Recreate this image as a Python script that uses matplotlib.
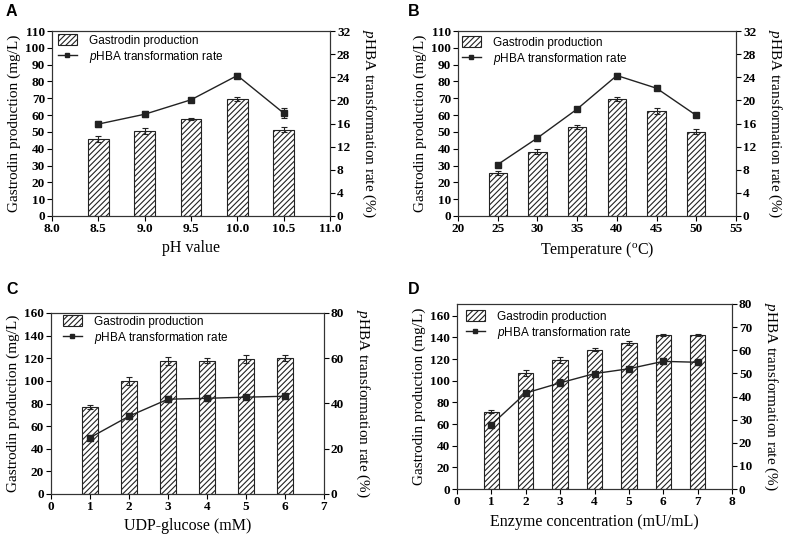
import matplotlib
matplotlib.use("Agg")
import matplotlib.pyplot as plt
from matplotlib.lines import Line2D
from matplotlib.patches import Patch
import numpy as np

plt.rcParams['font.family'] = ['Liberation Serif', 'DejaVu Serif']
plt.rcParams['mathtext.fontset'] = 'custom'
plt.rcParams['mathtext.it'] = 'Liberation Serif:italic'
plt.rcParams['mathtext.rm'] = 'Liberation Serif'
plt.rcParams['mathtext.sf'] = 'Liberation Sans:italic'
plt.rcParams['hatch.linewidth'] = 0.8
plt.rcParams['hatch.color'] = '#333333'

# Panel A: pH
ph = [8.5, 9.0, 9.5, 10.0, 10.5]
ph_prod = [45.6, 50.5, 57.6, 69.8, 51.3]
ph_prod_err = [1.8, 1.6, 0.8, 1.2, 1.5]
ph_rate = [15.9, 17.6, 20.1, 24.3, 17.8]
ph_rate_err = [0.5, 0.5, 0.3, 0.4, 0.8]

# Panel B: temperature
temp = [25, 30, 35, 40, 45, 50]
temp_prod = [25.6, 38.3, 53.1, 69.6, 62.6, 50.0]
temp_prod_err = [1.2, 1.6, 1.2, 1.4, 1.8, 1.5]
temp_rate = [8.9, 13.5, 18.5, 24.3, 22.1, 17.4]
temp_rate_err = [0.3, 0.5, 0.4, 0.5, 0.3, 0.2]

# Panel C: UDP-glucose
udp = [1, 2, 3, 4, 5, 6]
udp_prod = [77.0, 100.0, 117.5, 118.0, 119.5, 120.5]
udp_prod_err = [1.5, 3.5, 3.5, 2.0, 3.5, 2.5]
udp_rate = [24.9, 34.4, 41.9, 42.3, 42.8, 43.2]
udp_rate_err = [1.2, 1.3, 1.3, 1.0, 1.0, 0.8]

# Panel D: enzyme concentration
enz = [1, 2, 3, 4, 5, 6, 7]
enz_prod = [71.5, 107.0, 119.0, 128.6, 134.8, 142.5, 142.2]
enz_prod_err = [1.5, 2.5, 2.5, 1.5, 2.0, 0.8, 1.0]
enz_rate = [27.8, 41.5, 45.9, 49.9, 52.0, 55.2, 54.8]
enz_rate_err = [1.2, 1.0, 1.5, 0.8, 0.5, 1.0, 1.0]

W, H = 787, 539
fig = plt.figure(figsize=(W / 100, H / 100), dpi=100)


def ax_rect(l, r, t, b):
    return [l / W, (H - b) / H, (r - l) / W, (b - t) / H]


panels = [
    dict(rect=ax_rect(52, 330, 31, 216), x=ph, prod=ph_prod, perr=ph_prod_err,
         rate=ph_rate, rerr=ph_rate_err, width=0.22, xlim=(8.0, 11.0),
         xticks=np.arange(8.0, 11.01, 0.5), xfmt='{:.1f}',
         ylim=(0, 110), yticks=range(0, 111, 10), y2lim=(0, 32), y2ticks=range(0, 33, 4),
         xlabel='pH value', letter='A', lpos=(6, 12), legpos=(58, 34)),
    dict(rect=ax_rect(458, 736, 31, 216), x=temp, prod=temp_prod, perr=temp_prod_err,
         rate=temp_rate, rerr=temp_rate_err, width=2.3, xlim=(20, 55),
         xticks=range(20, 56, 5), xfmt='{:d}',
         ylim=(0, 110), yticks=range(0, 111, 10), y2lim=(0, 32), y2ticks=range(0, 33, 4),
         xlabel=r'Temperature ($^{\rm o}$C)', letter='B', lpos=(408, 12), legpos=(462, 36)),
    dict(rect=ax_rect(51, 324, 313, 494), x=udp, prod=udp_prod, perr=udp_prod_err,
         rate=udp_rate, rerr=udp_rate_err, width=0.4, xlim=(0, 7),
         xticks=range(0, 8), xfmt='{:d}',
         ylim=(0, 160), yticks=range(0, 161, 20), y2lim=(0, 80), y2ticks=range(0, 81, 20),
         xlabel='UDP-glucose (mM)', letter='C', lpos=(6, 289), legpos=(63, 315)),
    dict(rect=ax_rect(457, 732, 304, 489), x=enz, prod=enz_prod, perr=enz_prod_err,
         rate=enz_rate, rerr=enz_rate_err, width=0.45, xlim=(0, 8),
         xticks=range(0, 9), xfmt='{:d}',
         ylim=(0, 170.8), yticks=range(0, 161, 20), y2lim=(0, 80), y2ticks=range(0, 81, 10),
         xlabel='Enzyme concentration (mU/mL)', letter='D', lpos=(408, 289), legpos=(466, 310)),
]

for p in panels:
    ax = fig.add_axes(p['rect'])
    ax.bar(p['x'], p['prod'], width=p['width'], color='white', edgecolor='#222222',
           linewidth=0.8, hatch='//////', zorder=2)
    ax.errorbar(p['x'], p['prod'], yerr=p['perr'], fmt='none', ecolor='#222222',
                elinewidth=0.8, capsize=2.5, capthick=0.8, zorder=3)
    ax.set_xlim(*p['xlim'])
    ax.set_ylim(*p['ylim'])
    ax.set_xticks(list(p['xticks']))
    ax.set_xticklabels([p['xfmt'].format(v) for v in p['xticks']])
    ax.set_yticks(list(p['yticks']))
    ax.tick_params(axis='both', direction='out', length=3.5, width=0.8, labelsize=9.5, pad=1.5)
    for lab in ax.get_xticklabels() + ax.get_yticklabels():
        lab.set_fontweight('bold')
    ax.set_ylabel('Gastrodin production (mg/L)', fontsize=11, labelpad=3)
    ax.set_xlabel(p['xlabel'], fontsize=11.5, labelpad=4)
    for s in ax.spines.values():
        s.set_linewidth(0.8)
        s.set_color('#333333')

    ax2 = ax.twinx()
    ax2.errorbar(p['x'], p['rate'], yerr=p['rerr'], color='#222222', marker='s',
                 markersize=4, linewidth=1.0, elinewidth=0.8, capsize=2.5, capthick=0.8,
                 zorder=4)
    ax2.set_ylim(*p['y2lim'])
    ax2.set_yticks(list(p['y2ticks']))
    ax2.tick_params(axis='y', direction='out', length=3.5, width=0.8, labelsize=9.5, pad=1.5)
    for lab in ax2.get_yticklabels():
        lab.set_fontweight('bold')
    ax2.set_ylabel(r'$\mathit{p}$HBA transformation rate (%)', fontsize=11,
                   rotation=270, va='bottom', labelpad=7)
    for s in ax2.spines.values():
        s.set_linewidth(0.8)
        s.set_color('#333333')

    handles = [Patch(facecolor='white', edgecolor='#222222', hatch='//////', linewidth=0.8),
               Line2D([0], [0], color='#222222', marker='s', markersize=3.5, linewidth=1.0)]
    labels = ['Gastrodin production', r'$\mathsf{p}$HBA transformation rate']
    lx, ly = p['legpos']
    leg = ax.legend(handles, labels, loc='upper left', frameon=False,
                    bbox_to_anchor=(lx / W, 1 - ly / H), bbox_transform=fig.transFigure,
                    prop={'family': 'Liberation Sans', 'size': 8.5},
                    handlelength=1.6, handleheight=1.1, borderaxespad=0.0,
                    labelspacing=0.2, handletextpad=1.0, borderpad=0.0)
    leg.set_zorder(10)

    fig.text(p['lpos'][0] / W, 1 - p['lpos'][1] / H, p['letter'], fontsize=11.5,
             fontweight='bold', family='Liberation Sans', va='center', ha='left')

fig.savefig('out.png', dpi=100)
